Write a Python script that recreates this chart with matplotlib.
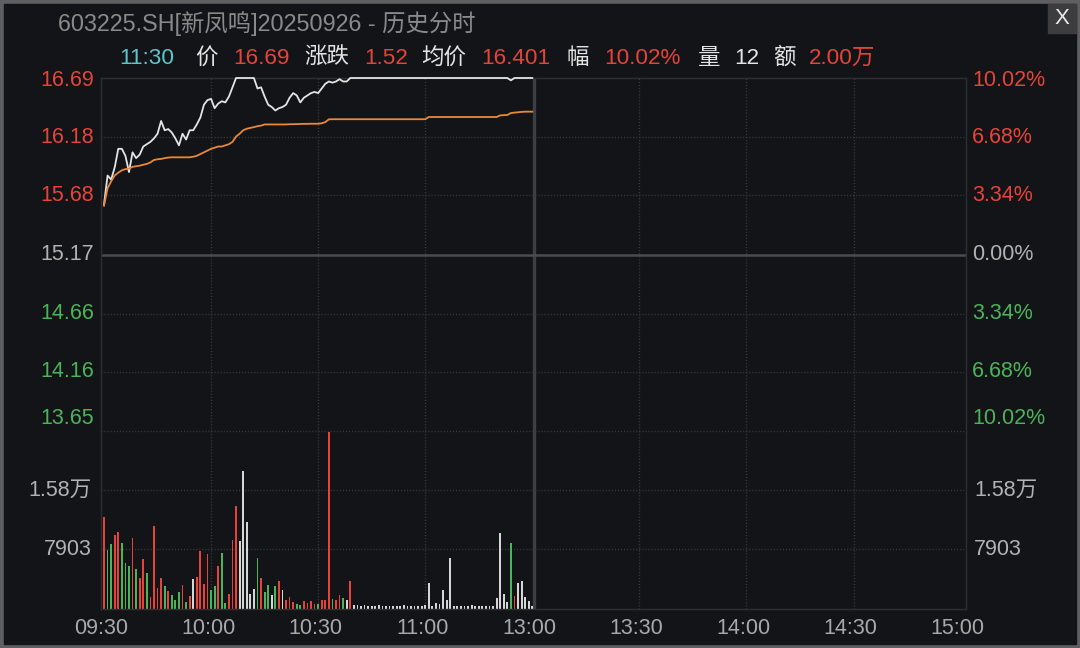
import matplotlib.pyplot as plt
from matplotlib.patches import Rectangle
from matplotlib.transforms import ScaledTranslation

# 新凤鸣 603225 分时 (2025-09-26 上午)
W, H = 1080, 648
plt.rcParams['font.family'] = ['Liberation Sans', 'Noto Sans CJK SC', 'DejaVu Sans']

BG = '#131417'
RED = '#e6443a'
GREEN = '#4bb35a'
GRAY = '#b2b2b2'
WHITE = '#e4e4e4'
GRID = '#3a3b3f'

# 每分钟数据, 09:30 = 0
price = [15.60, 15.85, 15.815, 15.92, 16.08, 16.08, 16.02, 15.88, 16.05, 16.00,
         16.03, 16.10, 16.12, 16.14, 16.17, 16.21, 16.32, 16.24, 16.25, 16.22,
         16.17, 16.11, 16.21, 16.16, 16.24, 16.24, 16.29, 16.35, 16.46, 16.50,
         16.51, 16.43, 16.47, 16.49, 16.48, 16.53, 16.61, 16.69, 16.69, 16.69,
         16.69, 16.69, 16.69, 16.60, 16.61, 16.53, 16.46, 16.44, 16.41, 16.43,
         16.44, 16.46, 16.52, 16.56, 16.54, 16.48, 16.52, 16.54, 16.56, 16.57,
         16.56, 16.60, 16.64, 16.66, 16.65, 16.66, 16.68, 16.66, 16.66, 16.69] \
        + [16.69] * 44 + [16.67] + [16.69] * 6

avg_price = [15.59, 15.74, 15.80, 15.85, 15.875, 15.895, 15.905, 15.91, 15.925, 15.93,
             15.935, 15.943, 15.95, 15.963, 15.984, 15.99, 15.993, 16.00, 16.005, 16.007,
             16.007, 16.007, 16.007, 16.007, 16.007, 16.012, 16.02, 16.035, 16.05, 16.065,
             16.08, 16.09, 16.10, 16.10, 16.11, 16.12, 16.14, 16.186, 16.21, 16.24,
             16.253, 16.26, 16.267, 16.275, 16.28, 16.29, 16.29, 16.29, 16.29, 16.29,
             16.29, 16.29, 16.292, 16.292, 16.293, 16.294, 16.295, 16.295, 16.296, 16.296,
             16.296, 16.30, 16.31, 16.334] \
            + [16.335] * 27 + [16.354] * 20 \
            + [16.368, 16.37, 16.372, 16.388, 16.392, 16.395, 16.398, 16.40, 16.40, 16.40]

volume = [12160, 7880, 8600, 9860, 10270, 8740, 6080, 5720, 9370, 5310,
          4100, 6660, 4730, 1580, 11080, 2790, 4010, 3020, 2300, 1800,
          1130, 2160, 3150, 860, 1710, 3960, 4230, 7660, 3290, 7300,
          2480, 3020, 5720, 7430, 720, 1940, 9100, 13730, 8960, 18370,
          11620, 1940, 2570, 6750, 4100, 2160, 3150, 1800, 3020, 3650,
          2430, 1130, 1580, 860, 590, 450, 950, 720, 950, 590,
          590, 1130, 1130, 23600, 1220, 1130, 1800, 1350, 1130, 3650,
          500, 500, 300, 500, 300, 300, 300, 500, 300, 300,
          300, 300, 300, 300, 500, 300, 300, 300, 300, 300,
          500, 3420, 300, 720, 590, 2430, 1130, 6710, 300, 300,
          300, 300, 300, 500, 300, 300, 300, 300, 300, 300,
          1350, 10090, 1940, 860, 8740, 1710, 3420, 3650, 1580, 950,
          300]
# r = 涨, g = 跌, w = 平
vol_dir = ('rggrrgggrg' 'rrgrrrrgrg' 'ggrgrwrrrr' 'ggrggrrrww' 'wwwgrggwgr'
           'wrrrggrrrr' 'grrrgrrgwr' + 'w' * 44 + 'gr' + 'w' * 5)

price_ticks = [16.69, 16.18, 15.68, 15.17, 14.66, 14.16, 13.65]
pct_labels = ['10.02%', '6.68%', '3.34%', '0.00%', '3.34%', '6.68%', '10.02%']
vol_ticks = [15806, 7903]
vol_labels = ['1.58万', '7903']
time_ticks = [0, 30, 60, 90, 120, 150, 180, 210, 240]
time_labels = ['09:30', '10:00', '10:30', '11:00', '13:00', '13:30', '14:00', '14:30', '15:00']
prev_close = 15.17

minutes = list(range(len(price)))
dir_color = {'r': RED, 'g': GREEN, 'w': '#d6d6d6'}
bar_colors = [dir_color[c] for c in vol_dir]


def box(l, t, r, b):
    return [l / W, 1 - b / H, (r - l) / W, (b - t) / H]


fig = plt.figure(figsize=(W / 100, H / 100), dpi=100, facecolor='#5f5f61')
fig.add_artist(Rectangle((4 / W, 4 / H), 1072 / W, 640 / H, transform=fig.transFigure,
                         color=BG, zorder=0))
fig.add_artist(Rectangle((1048 / W, 1 - 33 / H), 28 / W, 29 / H, transform=fig.transFigure,
                         color='#3d3d40', zorder=1))
fig.text(1062 / W, 1 - 18.5 / H, 'X', color='#e8e8e8', fontsize=16, ha='center', va='center')

fig.text(57.5 / W, 1 - 23.5 / H, '603225.SH[新凤鸣]20250926 - 历史分时',
         color='#8a8a8a', fontsize=16.8, va='center')

header = [('11:30', '#5cc6cc'), ('价', WHITE), ('16.69', RED), ('涨跌', WHITE), ('1.52', RED),
          ('均价', WHITE), ('16.401', RED), ('幅', WHITE), ('10.02%', RED), ('量', WHITE),
          ('12', WHITE), ('额', WHITE), ('2.00万', RED)]
header_x = [119.5, 195, 233, 304, 364, 421.5, 481.5, 567, 604, 698, 734.5, 773, 809]
for (txt, col), x in zip(header, header_x):
    fig.text(x / W, 1 - 58.5 / H, txt, color=col, fontsize=16.2, va='center')

ax_p = fig.add_axes(box(101, 78, 966, 431))
ax_v = fig.add_axes(box(101, 431, 966, 608.5))
xlim = (-0.84, 241.5)

for ax in (ax_p, ax_v):
    ax.set_facecolor(BG)
    ax.set_xlim(*xlim)
    ax.set_yticks([])
    for s in ax.spines.values():
        s.set_color('#2e2f33')
        s.set_linewidth(1)
    for t in [30, 60, 90, 150, 180, 210]:
        ax.axvline(t, color=GRID, lw=1, ls=(0, (0.8, 1.4)), zorder=1)
    ax.axvline(120.6, color='#3e3f43', lw=2.4, zorder=1)
ax_p.spines['bottom'].set_visible(False)
ax_v.spines['top'].set_visible(False)

# 价格区
ax_p.set_ylim(price_ticks[-1], price_ticks[0])
ax_p.set_xticks([])
for v in [16.18, 15.68, 14.66, 14.16]:
    ax_p.axhline(v, color=GRID, lw=1, ls=(0, (0.8, 1.4)), zorder=1)
ax_p.axhline(prev_close, color='#4a4b4f', lw=1.8, zorder=1)
ax_p.plot(minutes, price, color=WHITE, lw=1.3, zorder=3, clip_on=False)
ax_p.plot(minutes, avg_price, color='#e8893a', lw=1.3, zorder=3)

ytr = ax_p.get_yaxis_transform()
for i, (v, pl) in enumerate(zip(price_ticks, pct_labels)):
    col = RED if v > prev_close else (GREEN if v < prev_close else GRAY)
    dy = 0
    if i == 0:
        dy = -3
    elif i == len(price_ticks) - 1:
        dy = 12
    off = ScaledTranslation(0, dy / 100, fig.dpi_scale_trans)
    ax_p.text(-7 / 865, v, f'{v:.2f}', transform=ytr + off, color=col, fontsize=15.5,
              ha='right', va='center')
    ax_p.text(1 + 6 / 865, v, pl, transform=ytr + off, color=col, fontsize=15.5,
              ha='left', va='center')

# 成交量
ax_v.set_ylim(0, 3 * 7903)
ax_v.axhline(3 * 7903, color=GRID, lw=1, ls=(0, (0.8, 1.4)), zorder=1, clip_on=False)
for v in vol_ticks:
    ax_v.axhline(v, color=GRID, lw=1, ls=(0, (0.8, 1.4)), zorder=1)
ax_v.bar(minutes, volume, width=0.5, color=bar_colors, zorder=2)

vtr = ax_v.get_yaxis_transform()
for v, lab in zip(vol_ticks, vol_labels):
    ax_v.text(-9 / 865, v, lab, transform=vtr, color=GRAY, fontsize=15.5, ha='right', va='center')
    ax_v.text(1 + 8 / 865, v, lab, transform=vtr, color=GRAY, fontsize=15.5, ha='left', va='center')

ax_v.set_xticks(time_ticks)
ax_v.set_xticklabels(time_labels, color='#a9a9a9', fontsize=15.5)
ax_v.tick_params(axis='x', length=0, pad=7)
for lab in ax_v.get_xticklabels():
    lab.set_transform(lab.get_transform() + ScaledTranslation(-0.03, 0, fig.dpi_scale_trans))

fig.savefig('out.png', dpi=100, facecolor=fig.get_facecolor())
